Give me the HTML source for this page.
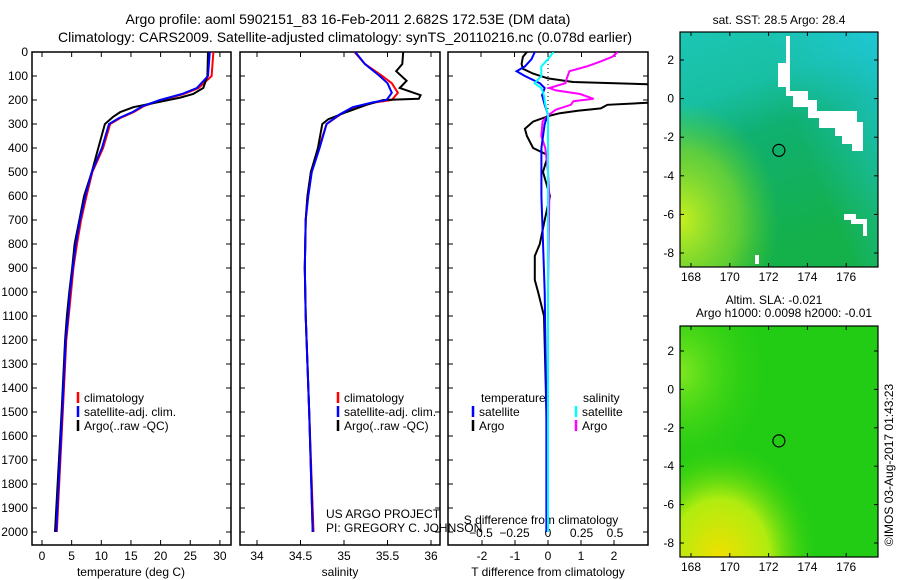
<!DOCTYPE html>
<html><head><meta charset="utf-8"><style>
body{margin:0;background:#fff;}
svg{display:block;font-family:"Liberation Sans",sans-serif;}
</style></head><body>
<svg id="s" width="900" height="580" viewBox="0 0 900 580">
<defs>
<linearGradient id="g1" x1="0" y1="0" x2="0.3" y2="1">
<stop offset="0" stop-color="#1cc6b4"/><stop offset="0.3" stop-color="#18bfa2"/><stop offset="0.5" stop-color="#10b070"/><stop offset="1" stop-color="#14b04a"/></linearGradient>
<linearGradient id="g1b" x1="1" y1="0" x2="0" y2="0.5">
<stop offset="0" stop-color="#20c8e0" stop-opacity="0.8"/><stop offset="0.5" stop-color="#20c8e0" stop-opacity="0"/></linearGradient>
<radialGradient id="g1c" cx="0" cy="0.8" r="0.5"><stop offset="0" stop-color="#c8f020"/><stop offset="0.6" stop-color="#90e020" stop-opacity="0.6"/><stop offset="1" stop-color="#60d020" stop-opacity="0"/></radialGradient>
<radialGradient id="g2" cx="0.2" cy="1" r="0.5"><stop offset="0" stop-color="#f0e000"/><stop offset="0.5" stop-color="#b0ec10"/><stop offset="1" stop-color="#30d010" stop-opacity="0"/></radialGradient>
<radialGradient id="g2b" cx="0" cy="0.2" r="0.45"><stop offset="0" stop-color="#80e820"/><stop offset="1" stop-color="#30d010" stop-opacity="0"/></radialGradient>
<clipPath id="c1"><rect x="32" y="52" width="199" height="493"/></clipPath>
<clipPath id="c2"><rect x="240" y="52" width="200" height="493"/></clipPath>
<clipPath id="c3"><rect x="448" y="52" width="200" height="493"/></clipPath>
</defs>
<g font-size="14" text-anchor="middle">
<text x="348" y="24">Argo profile: aoml 5902151_83 16-Feb-2011 2.682S 172.53E (DM data)</text>
<text x="345" y="42">Climatology: CARS2009. Satellite-adjusted climatology: synTS_20110216.nc (0.078d earlier)</text>
</g>
</svg>
<script>
const depthT=[0,100,150,175,200,225,250,275,300,400,500,600,700,800,900,1000,1100,1200,1500,2000];
const tempSat=[28.3,28.0,26.1,23.6,19.9,17.0,15.3,13.0,11.3,10.1,8.4,7.3,6.4,5.7,5.2,4.7,4.4,4.0,3.4,2.4];
const tempClim=[28.9,28.6,26.4,23.9,20.2,17.2,15.5,13.2,11.5,10.3,8.5,7.5,6.6,5.9,5.3,4.9,4.5,4.1,3.5,2.5];
const depthTA=[0,100,150,175,190,210,230,250,270,300,400,500,600,700,800,900,1000,1100,1200,1500,2000];
const tempArgo=[28.0,27.9,27.2,25.5,23.3,19.4,15.4,13.2,12.0,10.6,9.5,8.4,7.1,6.3,5.5,5.1,4.6,4.2,3.9,3.3,2.2];
const depthS=[0,50,100,130,170,200,210,230,260,300,400,500,600,700,900,1100,1500,2000];
const salSat=[35.13,35.24,35.41,35.5,35.55,35.49,35.33,35.1,34.95,34.8,34.72,34.63,34.59,34.56,34.55,34.56,34.6,34.64];
const salClim=[35.12,35.24,35.44,35.55,35.62,35.55,35.36,35.12,34.96,34.8,34.71,34.62,34.58,34.56,34.55,34.56,34.6,34.65];
const depthSA=[0,50,80,120,150,180,195,200,220,250,280,300,400,500,600,700,900,1100,1500,2000];
const salArgo=[35.68,35.67,35.6,35.72,35.64,35.88,35.86,35.45,35.26,35.03,34.82,34.75,34.7,34.62,34.58,34.56,34.55,34.56,34.6,34.64];
const depthD=[0,20,50,70,90,110,125,135,160,205,220,235,245,255,265,290,320,350,400,430,500,600,700,800,850,950,1000,1100,1500,2000];
const dTArgo=[-0.64,-0.76,-0.8,-0.76,-0.45,0,0.76,3.2,4,4,1.8,1.6,0.9,0.36,0.06,-0.45,-0.7,-0.64,-0.45,0,-0.15,0.06,-0.1,-0.25,-0.4,-0.4,-0.3,-0.12,-0.05,-0.02];
const depthD2=[0,30,60,80,100,130,150,180,220,260,300,400,600,1000,1500,2000];
const dTSat=[-0.4,-0.5,-0.7,-0.95,-0.7,-0.25,-0.1,-0.18,-0.1,0,-0.1,-0.2,-0.2,-0.1,-0.05,-0.05];
const dSSat=[0.04,0,-0.05,-0.05,-0.05,-0.1,-0.05,-0.03,-0.02,0,0,0,0,0,0,0];
const depthD3=[0,20,40,60,80,110,130,150,160,175,185,195,205,220,240,260,290,350,400,500,600,1000,1500,2000];
const dSArgo=[0.52,0.48,0.39,0.29,0.16,0.14,0.13,0.01,0.06,0.24,0.29,0.34,0.19,0.17,0.06,0.01,-0.04,-0.05,-0.02,0,0.01,0,0,0];
const tTicks=[0,5,10,15,20,25,30];
const sTicks=[34,34.5,35,35.5,36];
const sLabels=["34","34.5","35","35.5","36"];
const dTTicks=[-2,-1,0,1,2];
const dSTicks=[-0.5,-0.25,0,0.25,0.5];
const dSLabels=["\u22120.5","\u22120.25","0","0.25","0.5"];
const depthTicks=[0,100,200,300,400,500,600,700,800,900,1000,1100,1200,1300,1400,1500,1600,1700,1800,1900,2000];
const lonTicks=[168,170,172,174,176];
const latTicks=[2,0,-2,-4,-6,-8];
const floatLon=172.53, floatLat=-2.682;

const NS="http://www.w3.org/2000/svg";
const svg=document.getElementById('s');
function el(t,a,p){const e=document.createElementNS(NS,t);for(const k in a)e.setAttribute(k,a[k]);(p||svg).appendChild(e);return e;}
const yD=d=>52+0.24*d;
const xT=t=>42+5.93*t;
const xS=s=>257+87*(s-34);
const xDT=t=>548+33*t;
const xDS=s=>548+134*s;

function panel(x0,w,name){
  const g=el('g',{});
  
  
  el('rect',{x:x0,y:52,width:w,height:493,fill:'#fff',stroke:'#000','stroke-width':1.5},g);
  for(const d of depthTicks){const y=yD(d);
    el('line',{x1:x0,x2:x0+5,y1:y,y2:y,stroke:'#000'},g);
    el('line',{x1:x0+w-5,x2:x0+w,y1:y,y2:y,stroke:'#000'},g);}
  return g;
}
function line(g,xs,ys,fx,color,name,clip){
  const pts=xs.map((v,i)=>fx(v).toFixed(1)+','+yD(ys[i]).toFixed(1)).join(' ');
  const p=el('polyline',{points:pts,fill:'none',stroke:color,'stroke-width':2,'clip-path':'url(#'+clip+')'},g);
  
  
}
function xticks(g,vals,labels,fx,y,top){
  vals.forEach((v,i)=>{const x=fx(v);
    el('line',{x1:x,x2:x,y1:545,y2:540,stroke:'#000'},g);
    if(top)el('line',{x1:x,x2:x,y1:52,y2:57,stroke:'#000'},g);
    const t=el('text',{x:x,y:y,'font-size':12,'text-anchor':'middle'},g);t.textContent=labels[i];
    
    });
}
function legend(g,x,y0,items){
  items.forEach((it,i)=>{const y=y0+i*14;
    el('line',{x1:x,x2:x,y1:y-10,y2:y+1,stroke:it[1],'stroke-width':2.5},g);
    const t=el('text',{x:x+6,y:y,'font-size':12},g);t.textContent=it[0];
    
    });
}
const p1=panel(32,199,'temperature-panel');
const p2=panel(240,200,'salinity-panel');
const p3=panel(448,200,'difference-panel');
// Panel 1
depthTicks.forEach(d=>{const t=el('text',{x:28,y:yD(d)+4,'font-size':12,'text-anchor':'end'},p1);t.textContent=d;
 
 });
xticks(p1,tTicks,tTicks.map(String),xT,560,true);
line(p1,tempClim,depthT,xT,'#f00','temp-climatology-line','c1');
line(p1,tempArgo,depthTA,xT,'#000','temp-argo-line','c1');
line(p1,tempSat,depthT,xT,'#00f','temp-satellite-line','c1');
let t=el('text',{x:131,y:576,'font-size':12,'text-anchor':'middle'},p1);t.textContent='temperature (deg C)';
legend(p1,78,402,[['climatology','#f00'],['satellite-adj. clim.','#00f'],['Argo(..raw -QC)','#000']]);
// Panel 2
xticks(p2,sTicks,sLabels,xS,560,true);
line(p2,salClim,depthS,xS,'#f00','sal-climatology-line','c2');
line(p2,salArgo,depthSA,xS,'#000','sal-argo-line','c2');
line(p2,salSat,depthS,xS,'#00f','sal-satellite-line','c2');
t=el('text',{x:340,y:576,'font-size':12,'text-anchor':'middle'},p2);t.textContent='salinity';
legend(p2,338,402,[['climatology','#f00'],['satellite-adj. clim.','#00f'],['Argo(..raw -QC)','#000']]);
// Panel 3
xticks(p3,dTTicks,dTTicks.map(String),xDT,560,false);
dSTicks.forEach((v,i)=>{const x=xDS(v);el('line',{x1:x,x2:x,y1:52,y2:57,stroke:'#000'},p3);
 const tt=el('text',{x:x,y:537,'font-size':12,'text-anchor':'middle'},p3);tt.textContent=dSLabels[i];
 
 });
t=el('text',{x:541,y:524,'font-size':12,'text-anchor':'middle'},p3);t.textContent='S difference from climatology';
t=el('text',{x:548,y:576,'font-size':12,'text-anchor':'middle'},p3);t.textContent='T difference from climatology';
el('line',{x1:548,x2:548,y1:52,y2:yD(260),stroke:'#000','stroke-dasharray':'1,3'},p3);
line(p3,dTArgo,depthD,xDT,'#000','dT-argo-line','c3');
line(p3,dSArgo,depthD3,xDS,'#f0f','dS-argo-line','c3');
line(p3,dTSat,depthD2,xDT,'#00f','dT-satellite-line','c3');
line(p3,dSSat,depthD2,xDS,'#0ff','dS-satellite-line','c3');
t=el('text',{x:481,y:402,'font-size':12},p3);t.textContent='temperature';
t=el('text',{x:583,y:402,'font-size':12},p3);t.textContent='salinity';
legend(p3,473,416,[['satellite','#00f'],['Argo','#000']]);
legend(p3,576,416,[['satellite','#0ff'],['Argo','#f0f']]);
// credit text on top of panels
t=el('text',{x:326,y:518,'font-size':12});t.textContent='US ARGO PROJECT';


t=el('text',{x:326,y:532,'font-size':12});t.textContent='PI: GREGORY C. JOHNSON';



// Maps
function map(y0,y1,latTop,latBot,name,fills){
  const g=el('g',{});
  
  
  const x0=680,x1=878;
  fills.forEach(f=>el('rect',{x:x0,y:y0,width:x1-x0,height:y1-y0,fill:f},g));
  const lx=lon=>691+19.4*(lon-168);
  const ly=lat=>latTop+(2-lat)*(latBot-latTop)/10;
  return {g,lx,ly,x0,x1};
}
function finishMap(m,y0,y1,labY){
  const g=m.g;
  el('rect',{x:m.x0,y:y0,width:m.x1-m.x0,height:y1-y0,fill:'none',stroke:'#000','stroke-width':1.2},g);
  lonTicks.forEach(l=>{const x=m.lx(l);
    el('line',{x1:x,x2:x,y1:y0,y2:y0+4,stroke:'#000'},g);el('line',{x1:x,x2:x,y1:y1,y2:y1-4,stroke:'#000'},g);
    const tt=el('text',{x:x,y:labY,'font-size':12,'text-anchor':'middle'},g);tt.textContent=l;
    
    });
  latTicks.forEach(l=>{const y=m.ly(l);
    el('line',{x1:m.x0,x2:m.x0+4,y1:y,y2:y,stroke:'#000'},g);el('line',{x1:m.x1,x2:m.x1-4,y1:y,y2:y,stroke:'#000'},g);
    const tt=el('text',{x:674,y:y+4,'font-size':12,'text-anchor':'end'},g);tt.textContent=l;
    
    });
  const c=el('circle',{cx:m.lx(floatLon),cy:m.ly(floatLat),r:6,fill:'none',stroke:'#000','stroke-width':1.2},g);
  
  
}
const m1=map(32,267,60,253,'sst-map',['url(#g1)','url(#g1b)','url(#g1c)']);
el('path',{d:'M786,36 L790,36 L790,91 L808,91 L808,100 L817,100 L817,111 L857,111 L857,122 L863,122 L863,151 L852,151 L852,144 L842,144 L842,136 L835,136 L835,128 L819,128 L819,118 L808,118 L808,107 L793,107 L793,96 L786,96 L786,87 L778,87 L778,63 L786,63 Z',fill:'#fff'},m1.g);
el('path',{d:'M844,214 L856,214 L856,219 L867,219 L867,236 L863,236 L863,224 L851,224 L851,220 L844,220 Z',fill:'#fff'},m1.g);
el('rect',{x:755,y:255,width:4,height:9,fill:'#fff'},m1.g);
finishMap(m1,32,267,281);
t=el('text',{x:779,y:24,'font-size':12,'text-anchor':'middle'},m1.g);t.textContent='sat. SST: 28.5 Argo: 28.4';
const m2=map(326,557,351,543,'sla-map',['#22cc14','url(#g2b)','url(#g2)']);
finishMap(m2,326,557,571);
t=el('text',{x:774,y:304,'font-size':12,'text-anchor':'middle'},m2.g);t.textContent='Altim. SLA: -0.021';
t=el('text',{x:784,y:317,'font-size':12,'text-anchor':'middle'},m2.g);t.textContent='Argo h1000: 0.0098 h2000: -0.01';
t=el('text',{x:0,y:0,'font-size':12,'text-anchor':'middle',transform:'translate(893,465) rotate(-90)'});
t.textContent='\u00a9IMOS 03-Aug-2017 01:43:23';


</script>
</body></html>
